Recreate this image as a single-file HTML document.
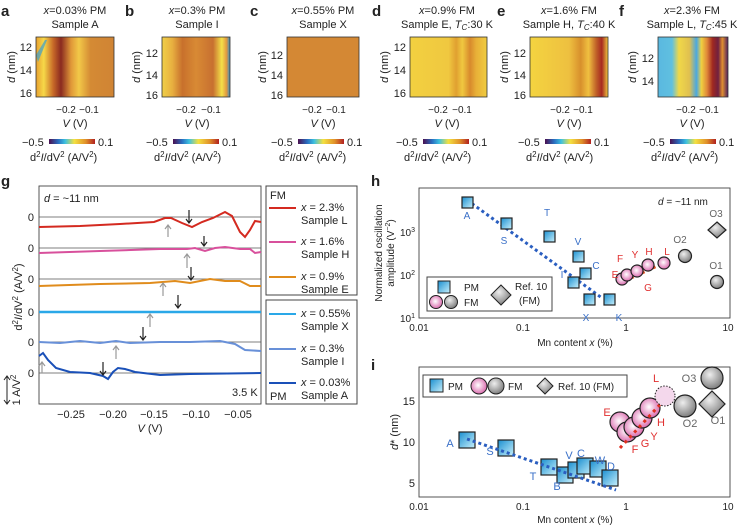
<!DOCTYPE html>
<html><head><meta charset="utf-8"><style>
body{margin:0;background:#fff}
svg{display:block;font-family:"Liberation Sans",sans-serif}
</style></head><body>
<svg width="740" height="529" viewBox="0 0 740 529" xmlns="http://www.w3.org/2000/svg">
<defs>
<linearGradient id="cb" x1="0" x2="1"><stop offset="0" stop-color="#4a1050"/><stop offset="0.2" stop-color="#2a6ec0"/><stop offset="0.35" stop-color="#3cc0e0"/><stop offset="0.55" stop-color="#f4e040"/><stop offset="0.8" stop-color="#e0902a"/><stop offset="1" stop-color="#b02020"/></linearGradient>
<linearGradient id="sq" x1="0" y1="0" x2="1" y2="1"><stop offset="0" stop-color="#1a8fd0"/><stop offset="1" stop-color="#c8f0fc"/></linearGradient>
<radialGradient id="pk" cx="0.45" cy="0.45" r="0.6"><stop offset="0" stop-color="#fff"/><stop offset="1" stop-color="#d860a8"/></radialGradient>
<radialGradient id="gy" cx="0.4" cy="0.35" r="0.7"><stop offset="0" stop-color="#eee"/><stop offset="1" stop-color="#777"/></radialGradient>
<linearGradient id="ha" x1="0" x2="1"><stop offset="0" stop-color="#e8a030"/><stop offset="0.1" stop-color="#f6d848"/><stop offset="0.22" stop-color="#c86a28"/><stop offset="0.32" stop-color="#8a2a20"/><stop offset="0.45" stop-color="#e09838"/><stop offset="0.55" stop-color="#f2c848"/><stop offset="0.7" stop-color="#d48a34"/><stop offset="1" stop-color="#d08434"/></linearGradient>
<linearGradient id="hb" x1="0" x2="1"><stop offset="0" stop-color="#f0d048"/><stop offset="0.15" stop-color="#e8b040"/><stop offset="0.3" stop-color="#c8702c"/><stop offset="0.5" stop-color="#d88a34"/><stop offset="0.75" stop-color="#c87030"/><stop offset="0.88" stop-color="#f4e048"/><stop offset="0.95" stop-color="#e09840"/><stop offset="1" stop-color="#3090c8"/></linearGradient>
<linearGradient id="hd" x1="0" x2="1"><stop offset="0" stop-color="#f2d040"/><stop offset="0.5" stop-color="#f0c840"/><stop offset="0.6" stop-color="#e0a030"/><stop offset="0.68" stop-color="#f0c840"/><stop offset="0.78" stop-color="#d88a2c"/><stop offset="0.86" stop-color="#e8b038"/><stop offset="1" stop-color="#f0cc40"/></linearGradient>
<linearGradient id="he" x1="0" x2="1"><stop offset="0" stop-color="#f4d440"/><stop offset="0.5" stop-color="#eec040"/><stop offset="0.65" stop-color="#d8902c"/><stop offset="0.75" stop-color="#f0c040"/><stop offset="0.85" stop-color="#c06028"/><stop offset="0.92" stop-color="#a82a20"/><stop offset="1" stop-color="#f0c840"/></linearGradient>
<linearGradient id="hf" x1="0" x2="1"><stop offset="0" stop-color="#5ab8e0"/><stop offset="0.2" stop-color="#60c0e0"/><stop offset="0.3" stop-color="#f0d848"/><stop offset="0.45" stop-color="#e0c050"/><stop offset="0.55" stop-color="#4aa8e0"/><stop offset="0.62" stop-color="#f0d040"/><stop offset="0.7" stop-color="#e08838"/><stop offset="0.78" stop-color="#a02820"/><stop offset="0.86" stop-color="#702040"/><stop offset="0.92" stop-color="#e09030"/><stop offset="1" stop-color="#502060"/></linearGradient>
</defs>

<g font-size="12" fill="#222">
<g font-weight="bold" font-size="15"><text x="1" y="16">a</text><text x="125" y="16">b</text><text x="250" y="16">c</text><text x="372" y="16">d</text><text x="497" y="16">e</text><text x="619" y="16">f</text></g>
<g font-size="11" text-anchor="middle">
<text x="75" y="14"><tspan font-style="italic">x</tspan>=0.03% PM</text><text x="75" y="28">Sample A</text>
<text x="197" y="14"><tspan font-style="italic">x</tspan>=0.3% PM</text><text x="197" y="28">Sample I</text>
<text x="323" y="14"><tspan font-style="italic">x</tspan>=0.55% PM</text><text x="323" y="28">Sample X</text>
<text x="447" y="14"><tspan font-style="italic">x</tspan>=0.9% FM</text><text x="447" y="28">Sample E, <tspan font-style="italic">T</tspan><tspan font-size="8" dy="2" font-style="italic">C</tspan><tspan dy="-2">:30 K</tspan></text>
<text x="569" y="14"><tspan font-style="italic">x</tspan>=1.6% FM</text><text x="569" y="28">Sample H, <tspan font-style="italic">T</tspan><tspan font-size="8" dy="2" font-style="italic">C</tspan><tspan dy="-2">:40 K</tspan></text>
<text x="692" y="14"><tspan font-style="italic">x</tspan>=2.3% FM</text><text x="692" y="28">Sample L, <tspan font-style="italic">T</tspan><tspan font-size="8" dy="2" font-style="italic">C</tspan><tspan dy="-2">:45 K</tspan></text>
</g>
<rect x="36" y="37" width="78" height="60" fill="url(#ha)"/>
<polygon points="36,55 45,40 47,40 38,62" fill="#3aa0d0" opacity="0.7"/>
<rect x="162" y="37" width="68" height="60" fill="url(#hb)"/>
<rect x="287" y="37" width="72" height="60" fill="#d48834"/>
<rect x="410" y="37" width="77" height="60" fill="url(#hd)"/>
<rect x="530" y="37" width="78" height="60" fill="url(#he)"/>
<rect x="658" y="37" width="70" height="60" fill="url(#hf)"/>
<g fill="none" stroke="#333" stroke-width="0.8">
<rect x="36" y="37" width="78" height="60"/><rect x="162" y="37" width="68" height="60"/><rect x="287" y="37" width="72" height="60"/><rect x="410" y="37" width="77" height="60"/><rect x="530" y="37" width="78" height="60"/><rect x="658" y="37" width="70" height="60"/>
</g>
<g font-size="11" text-anchor="end">
<text x="32" y="51">12</text><text x="32" y="74">14</text><text x="32" y="97">16</text>
<text x="158" y="57">12</text><text x="158" y="79">14</text><text x="158" y="99">16</text>
<text x="283" y="59">12</text><text x="283" y="79">14</text><text x="283" y="99">16</text>
<text x="406" y="51">12</text><text x="406" y="74">14</text><text x="406" y="97">16</text>
<text x="526" y="57">12</text><text x="526" y="79">14</text><text x="526" y="99">16</text>
<text x="654" y="62">12</text><text x="654" y="85">14</text>
</g>
<g font-size="10" text-anchor="middle">
<text x="66" y="113">−0.2</text><text x="89" y="113">−0.1</text>
<text x="186" y="113">−0.2</text><text x="211" y="113">−0.1</text>
<text x="312" y="113">−0.2</text><text x="336" y="113">−0.1</text>
<text x="438" y="113">−0.2</text><text x="462" y="113">−0.1</text>
<text x="560" y="113">−0.2</text><text x="583" y="113">−0.1</text>
<text x="686" y="113">−0.2</text><text x="709" y="113">−0.1</text>
</g>
<g font-size="11" text-anchor="middle">
<text x="75" y="127"><tspan font-style="italic">V</tspan> (V)</text><text x="197" y="127"><tspan font-style="italic">V</tspan> (V)</text><text x="323" y="127"><tspan font-style="italic">V</tspan> (V)</text><text x="447" y="127"><tspan font-style="italic">V</tspan> (V)</text><text x="569" y="127"><tspan font-style="italic">V</tspan> (V)</text><text x="692" y="127"><tspan font-style="italic">V</tspan> (V)</text>
</g>
<g font-size="11" text-anchor="middle">
<text transform="translate(15,67) rotate(-90)"><tspan font-style="italic">d</tspan> (nm)</text>
<text transform="translate(140,67) rotate(-90)"><tspan font-style="italic">d</tspan> (nm)</text>
<text transform="translate(266,67) rotate(-90)"><tspan font-style="italic">d</tspan> (nm)</text>
<text transform="translate(388,67) rotate(-90)"><tspan font-style="italic">d</tspan> (nm)</text>
<text transform="translate(508,67) rotate(-90)"><tspan font-style="italic">d</tspan> (nm)</text>
<text transform="translate(636,67) rotate(-90)"><tspan font-style="italic">d</tspan> (nm)</text>
</g>
<g font-size="11">
<rect x="49" y="139" width="46" height="5" fill="url(#cb)"/><text x="22" y="146">−0.5</text><text x="98" y="146">0.1</text><text x="30" y="161">d<tspan font-size="8" dy="-4">2</tspan><tspan dy="4" font-style="italic">I</tspan>/dV<tspan font-size="8" dy="-4">2</tspan><tspan dy="4"> (A/V</tspan><tspan font-size="8" dy="-4">2</tspan><tspan dy="4">)</tspan></text>
<rect x="173" y="139" width="46" height="5" fill="url(#cb)"/><text x="146" y="146">−0.5</text><text x="222" y="146">0.1</text><text x="154" y="161">d<tspan font-size="8" dy="-4">2</tspan><tspan dy="4" font-style="italic">I</tspan>/dV<tspan font-size="8" dy="-4">2</tspan><tspan dy="4"> (A/V</tspan><tspan font-size="8" dy="-4">2</tspan><tspan dy="4">)</tspan></text>
<rect x="298" y="139" width="46" height="5" fill="url(#cb)"/><text x="271" y="146">−0.5</text><text x="347" y="146">0.1</text><text x="279" y="161">d<tspan font-size="8" dy="-4">2</tspan><tspan dy="4" font-style="italic">I</tspan>/dV<tspan font-size="8" dy="-4">2</tspan><tspan dy="4"> (A/V</tspan><tspan font-size="8" dy="-4">2</tspan><tspan dy="4">)</tspan></text>
<rect x="423" y="139" width="46" height="5" fill="url(#cb)"/><text x="396" y="146">−0.5</text><text x="472" y="146">0.1</text><text x="404" y="161">d<tspan font-size="8" dy="-4">2</tspan><tspan dy="4" font-style="italic">I</tspan>/dV<tspan font-size="8" dy="-4">2</tspan><tspan dy="4"> (A/V</tspan><tspan font-size="8" dy="-4">2</tspan><tspan dy="4">)</tspan></text>
<rect x="545" y="139" width="46" height="5" fill="url(#cb)"/><text x="518" y="146">−0.5</text><text x="594" y="146">0.1</text><text x="526" y="161">d<tspan font-size="8" dy="-4">2</tspan><tspan dy="4" font-style="italic">I</tspan>/dV<tspan font-size="8" dy="-4">2</tspan><tspan dy="4"> (A/V</tspan><tspan font-size="8" dy="-4">2</tspan><tspan dy="4">)</tspan></text>
<rect x="670" y="139" width="46" height="5" fill="url(#cb)"/><text x="643" y="146">−0.5</text><text x="719" y="146">0.1</text><text x="651" y="161">d<tspan font-size="8" dy="-4">2</tspan><tspan dy="4" font-style="italic">I</tspan>/dV<tspan font-size="8" dy="-4">2</tspan><tspan dy="4"> (A/V</tspan><tspan font-size="8" dy="-4">2</tspan><tspan dy="4">)</tspan></text>
</g>

<!-- panel g -->
<text x="1" y="186" font-weight="bold" font-size="15">g</text>
<rect x="39" y="186" width="222" height="218" fill="none" stroke="#444" stroke-width="0.9"/>
<g stroke="#555" stroke-width="0.8"><line x1="39" y1="217" x2="261" y2="217"/><line x1="39" y1="248" x2="261" y2="248"/><line x1="39" y1="279" x2="261" y2="279"/><line x1="39" y1="342" x2="261" y2="342"/><line x1="39" y1="373" x2="261" y2="373"/></g>
<g font-size="11" text-anchor="end"><text x="34" y="221">0</text><text x="34" y="252">0</text><text x="34" y="283">0</text><text x="34" y="316">0</text><text x="34" y="346">0</text><text x="34" y="377">0</text></g>
<text x="44" y="202" font-size="11"><tspan font-style="italic">d</tspan> = ~11 nm</text>
<text x="232" y="396" font-size="11">3.5 K</text>
<g fill="none" stroke-width="2">
<path d="M39,227 L80,226 L120,224 L154,222 L165,218 L171,218 L182,223 L192,227 L202,222 L213,218 L225,212 L232,216 L240,232 L245,237 L250,230 L255,221 L261,222" stroke="#d42a20"/>
<path d="M39,253 L100,251 L160,249 L187,249 L195,248 L205,251 L215,248 L225,247 L240,249 L250,249 L255,253 L261,252" stroke="#d8509c"/>
<path d="M39,286 L100,284 L150,283 L175,281 L190,283 L210,279 L225,281 L240,281 L250,286 L261,286" stroke="#e08c1c"/>
<path d="M39,312 L261,312" stroke="#2aa8e8" stroke-width="2.5"/>
<path d="M39,342 L60,343 L80,341 L100,343 L116,341 L130,343 L160,342 L190,342 L220,341 L235,344 L245,350 L261,351" stroke="#6890d8"/>
<path d="M39,356 L43,353 L48,360 L56,368 L70,372 L90,373 L103,376 L108,379 L113,372 L118,368 L125,369 L135,372 L160,375 L190,374 L261,373" stroke="#1a50b8"/>
</g>
<g stroke-width="1.2" fill="none">
<g stroke="#222"><path d="M189,210 v13 M186,219 l3,4 3,-4"/><path d="M204,236 v10 M201,242 l3,4 3,-4"/><path d="M191,267 v13 M188,276 l3,4 3,-4"/><path d="M178,295 v13 M175,304 l3,4 3,-4"/><path d="M143,327 v13 M140,336 l3,4 3,-4"/><path d="M103,362 v13 M100,371 l3,4 3,-4"/></g>
<g stroke="#999"><path d="M168,237 v-12 M165,229 l3,-4 3,4"/><path d="M187,268 v-14 M184,258 l3,-4 3,4"/><path d="M163,296 v-13 M160,287 l3,-4 3,4"/><path d="M150,327 v-13 M147,318 l3,-4 3,4"/><path d="M116,359 v-13 M113,350 l3,-4 3,4"/><path d="M42,373 v-11 M39,366 l3,-4 3,4"/></g>
</g>
<text transform="translate(22,297) rotate(-90)" text-anchor="middle" font-size="11">d<tspan font-size="8" dy="-4">2</tspan><tspan dy="4" font-style="italic">I</tspan>/dV<tspan font-size="8" dy="-4">2</tspan><tspan dy="4"> (A/V</tspan><tspan font-size="8" dy="-4">2</tspan><tspan dy="4">)</tspan></text>
<path d="M7,376 v28 M4,380 l3,-4 3,4 M4,400 l3,4 3,-4" stroke="#222" fill="none"/>
<text transform="translate(20,390) rotate(-90)" text-anchor="middle" font-size="11">1 A/V<tspan font-size="8" dy="-4">2</tspan></text>
<g font-size="11" text-anchor="middle"><text x="71" y="418">−0.25</text><text x="113" y="418">−0.20</text><text x="154" y="418">−0.15</text><text x="196" y="418">−0.10</text><text x="238" y="418">−0.05</text><text x="150" y="432"><tspan font-style="italic">V</tspan> (V)</text></g>
<rect x="266" y="186" width="91" height="109" fill="none" stroke="#444"/>
<rect x="266" y="300" width="91" height="104" fill="none" stroke="#444"/>
<g font-size="11">
<text x="270" y="199">FM</text><text x="270" y="400">PM</text>
<line x1="269" y1="208" x2="296" y2="208" stroke="#d42a20" stroke-width="2"/><text x="301" y="211"><tspan font-style="italic">x</tspan> = 2.3%</text><text x="301" y="224">Sample L</text>
<line x1="269" y1="242" x2="296" y2="242" stroke="#d8509c" stroke-width="2"/><text x="301" y="245"><tspan font-style="italic">x</tspan> = 1.6%</text><text x="301" y="258">Sample H</text>
<line x1="269" y1="277" x2="296" y2="277" stroke="#e08c1c" stroke-width="2"/><text x="301" y="280"><tspan font-style="italic">x</tspan> = 0.9%</text><text x="301" y="293">Sample E</text>
<line x1="269" y1="314" x2="296" y2="314" stroke="#2aa8e8" stroke-width="2"/><text x="301" y="317"><tspan font-style="italic">x</tspan> = 0.55%</text><text x="301" y="330">Sample X</text>
<line x1="269" y1="349" x2="296" y2="349" stroke="#6890d8" stroke-width="2"/><text x="301" y="352"><tspan font-style="italic">x</tspan> = 0.3%</text><text x="301" y="365">Sample I</text>
<line x1="269" y1="383" x2="296" y2="383" stroke="#1a50b8" stroke-width="2"/><text x="301" y="386"><tspan font-style="italic">x</tspan> = 0.03%</text><text x="301" y="399">Sample A</text>
</g>

<!-- panel h -->
<text x="371" y="186" font-weight="bold" font-size="15">h</text>
<rect x="419" y="188" width="311" height="130" fill="none" stroke="#444" stroke-width="0.9"/>
<g font-size="10" text-anchor="end"><text x="415" y="322">10<tspan font-size="7" dy="-4">1</tspan></text><text x="415" y="279">10<tspan font-size="7" dy="-4">2</tspan></text><text x="415" y="236">10<tspan font-size="7" dy="-4">3</tspan></text></g>
<g font-size="10" text-anchor="middle"><text x="419" y="331">0.01</text><text x="523" y="331">0.1</text><text x="626" y="331">1</text><text x="728" y="331">10</text>
<text x="575" y="346">Mn content <tspan font-style="italic">x</tspan> (%)</text>
<text transform="translate(382,253) rotate(-90)">Normalized oscillation</text>
<text transform="translate(394,253) rotate(-90)">amplitude (V<tspan font-size="7" dy="-4">−2</tspan><tspan dy="4">)</tspan></text></g>
<text x="658" y="205" font-size="10"><tspan font-style="italic">d</tspan> = ~11 nm</text>
<line x1="467" y1="200" x2="602" y2="298" stroke="#2a5ec0" stroke-width="3" stroke-dasharray="3,3"/>
<line x1="620" y1="283" x2="666" y2="262" stroke="#e05020" stroke-width="3" stroke-dasharray="3,3"/>
<g stroke="#222" stroke-width="1.2" fill="url(#sq)">
<rect x="462" y="197" width="11" height="11"/><rect x="501" y="218" width="11" height="11"/><rect x="544" y="231" width="11" height="11"/><rect x="573" y="251" width="11" height="11"/><rect x="580" y="268" width="11" height="11"/><rect x="568" y="277" width="11" height="11"/><rect x="584" y="294" width="11" height="11"/><rect x="604" y="294" width="11" height="11"/>
</g>
<g stroke="#222" stroke-width="1.2" fill="url(#pk)">
<circle cx="622" cy="279" r="6"/><circle cx="627" cy="275" r="6"/><circle cx="637" cy="271" r="6"/><circle cx="648" cy="265" r="6"/><circle cx="664" cy="263" r="6"/>
</g>
<g stroke="#222" stroke-width="1.2" fill="url(#gy)"><circle cx="685" cy="256" r="6.5"/><circle cx="717" cy="282" r="6.5"/><polygon points="717,222 726,230 717,238 708,230"/></g>
<g font-size="10" fill="#3a70c8" text-anchor="middle"><text x="467" y="219">A</text><text x="504" y="244">S</text><text x="547" y="216">T</text><text x="578" y="245">V</text><text x="596" y="269">C</text><text x="562" y="278">I</text><text x="586" y="321">X</text><text x="619" y="321">K</text></g>
<g font-size="10" fill="#e03030" text-anchor="middle"><text x="615" y="278">E</text><text x="620" y="262">F</text><text x="635" y="258">Y</text><text x="649" y="255">H</text><text x="667" y="255">L</text><text x="648" y="291">G</text></g>
<g font-size="10" fill="#666" text-anchor="middle"><text x="680" y="243">O2</text><text x="716" y="269">O1</text><text x="716" y="217">O3</text></g>
<rect x="427" y="277" width="125" height="34" fill="#fff" stroke="#444"/>
<rect x="438" y="281" width="12" height="12" fill="url(#sq)" stroke="#222"/>
<circle cx="436" cy="302" r="6.5" fill="url(#pk)" stroke="#222"/><circle cx="451" cy="302" r="6.5" fill="url(#gy)" stroke="#222"/>
<polygon points="501,285 511,295 501,305 491,295" fill="url(#gy)" stroke="#222"/>
<g font-size="10"><text x="464" y="291">PM</text><text x="464" y="306">FM</text><text x="515" y="290">Ref. 10</text><text x="519" y="304">(FM)</text></g>

<!-- panel i -->
<text x="371" y="370" font-weight="bold" font-size="15">i</text>
<rect x="419" y="367" width="311" height="130" fill="none" stroke="#444" stroke-width="0.9"/>
<g font-size="11" text-anchor="end"><text x="415" y="405">15</text><text x="415" y="446">10</text><text x="415" y="487">5</text></g>
<g font-size="10" text-anchor="middle"><text x="419" y="510">0.01</text><text x="523" y="510">0.1</text><text x="626" y="510">1</text><text x="728" y="510">10</text>
<text x="575" y="523">Mn content <tspan font-style="italic">x</tspan> (%)</text>
<text transform="translate(398,432) rotate(-90)" font-size="11"><tspan font-style="italic">d</tspan>* (nm)</text></g>
<g stroke="#222" stroke-width="1.2" fill="url(#sq)">
<rect x="459" y="432" width="16" height="16"/><rect x="498" y="440" width="16" height="16"/><rect x="541" y="459" width="16" height="16"/><rect x="557" y="467" width="16" height="16"/><rect x="568" y="462" width="16" height="16"/><rect x="577" y="458" width="16" height="16"/><rect x="590" y="461" width="16" height="16"/><rect x="602" y="470" width="16" height="16"/>
</g>
<line x1="467" y1="439" x2="616" y2="490" stroke="#2a5ec0" stroke-width="3" stroke-dasharray="3,3"/>
<g stroke="#222" stroke-width="1.2" fill="url(#pk)">
<circle cx="620" cy="422" r="10"/><circle cx="627" cy="432" r="10"/><circle cx="634" cy="427" r="10"/><circle cx="642" cy="418" r="10"/><circle cx="650" cy="408" r="10"/>
</g>
<line x1="620" y1="448" x2="666" y2="398" stroke="#e03020" stroke-width="3" stroke-dasharray="3,4"/>
<circle cx="665" cy="396" r="10" fill="#f4d8ec" stroke="#222" stroke-dasharray="1.5,1.5"/>
<g stroke="#222" stroke-width="1.2" fill="url(#gy)"><circle cx="685" cy="406" r="11"/><circle cx="712" cy="378" r="11"/><polygon points="712,391 725,404 712,417 699,404"/></g>
<g font-size="11" fill="#3a70c8" text-anchor="middle"><text x="450" y="447">A</text><text x="490" y="455">S</text><text x="533" y="480">T</text><text x="557" y="490">B</text><text x="569" y="459">V</text><text x="581" y="457">C</text><text x="600" y="464">W</text><text x="611" y="470">D</text></g>
<g font-size="11" fill="#e03030" text-anchor="middle"><text x="607" y="416">E</text><text x="635" y="453">F</text><text x="645" y="447">G</text><text x="654" y="440">Y</text><text x="661" y="426">H</text><text x="656" y="382">L</text></g>
<g font-size="11" fill="#666" text-anchor="middle"><text x="690" y="427">O2</text><text x="689" y="382">O3</text><text x="718" y="424">O1</text></g>
<rect x="423" y="375" width="204" height="22" fill="#fff" stroke="#444"/>
<rect x="430" y="379" width="13" height="13" fill="url(#sq)" stroke="#222"/><text x="448" y="390" font-size="10">PM</text>
<circle cx="479" cy="386" r="8" fill="url(#pk)" stroke="#222"/><circle cx="496" cy="386" r="8" fill="url(#gy)" stroke="#222"/><text x="508" y="390" font-size="10">FM</text>
<polygon points="545,378 553,386 545,394 537,386" fill="url(#gy)" stroke="#222"/><text x="558" y="390" font-size="10">Ref. 10 (FM)</text>
</g>
</svg>
</body></html>
